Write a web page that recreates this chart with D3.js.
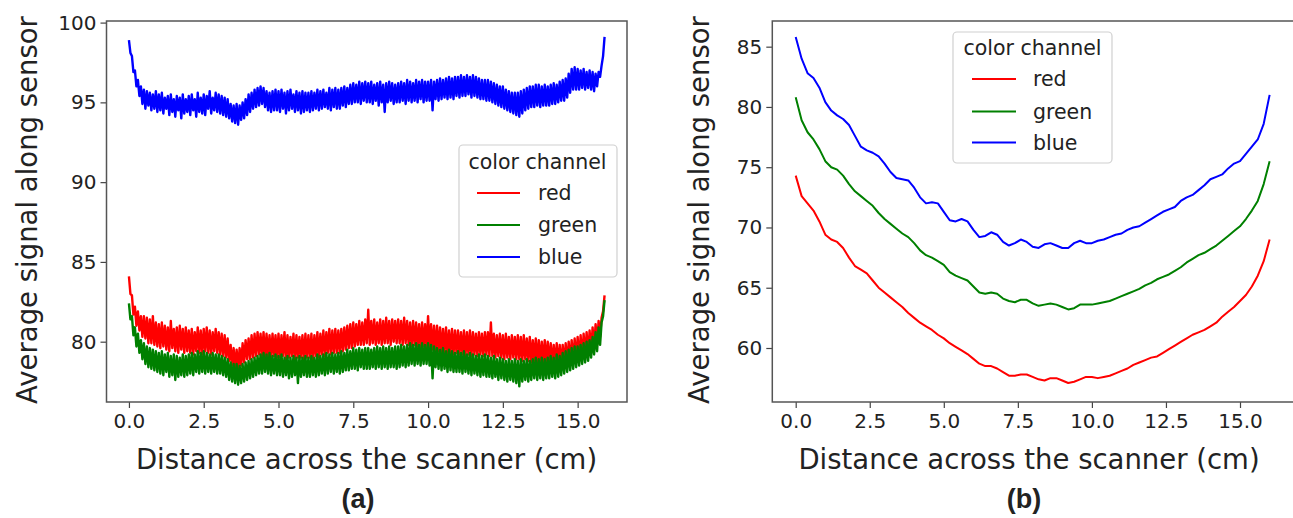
<!DOCTYPE html>
<html>
<head>
<meta charset="utf-8">
<script src="https://cdnjs.cloudflare.com/ajax/libs/d3/7.8.5/d3.min.js"></script>
<style>
  body { margin: 0; background: #fff; }
  text { font-family: "DejaVu Sans", sans-serif; fill: #222; }
  .panel-tag { font-family: "Liberation Sans", Arial, sans-serif; font-weight: bold; }
</style>
</head>
<body>
<div id="chart"></div>
<script>
// ---- data ----
var channels = ["red", "green", "blue"];
var xTicks = [0, 2.5, 5, 7.5, 10, 12.5, 15];
var yTicksA = [80, 85, 90, 95, 100];
var yTicksB = [60, 65, 70, 75, 80, 85];

// (a) raw signal, one sample every 0.05 cm from 0 to 15.9 cm
var stepA = 0.05;
var redA = [
  84.1, 83.0, 82.9, 81.7, 82.2, 81.0, 81.9, 80.7, 81.6, 80.3, 81.6, 80.2, 81.5, 79.9, 81.4, 79.9, 81.6, 79.8, 81.2, 79.7,
  81.1, 79.6, 81.2, 79.7, 81.0, 79.5, 80.9, 79.4, 81.3, 79.6, 80.8, 79.4, 80.9, 79.3, 81.0, 79.5, 80.8, 79.3, 80.9, 79.4,
  80.7, 79.3, 80.8, 79.2, 80.6, 79.4, 80.9, 79.3, 80.7, 79.2, 80.8, 79.4, 80.9, 79.3, 80.7, 79.2, 80.6, 79.4, 80.8, 79.3,
  80.6, 79.2, 80.5, 79.1, 80.4, 79.0, 80.2, 78.8, 79.8, 78.5, 79.6, 78.3, 79.5, 78.3, 79.6, 78.5, 79.9, 78.7, 80.1, 78.9,
  80.2, 78.9, 80.4, 79.0, 80.5, 79.1, 80.6, 79.2, 80.5, 79.1, 80.6, 79.0, 80.5, 79.1, 80.4, 79.0, 80.5, 79.1, 80.4, 79.0,
  80.5, 79.0, 80.4, 79.1, 80.6, 78.9, 80.4, 79.0, 80.3, 79.1, 80.5, 78.9, 80.4, 79.0, 80.3, 79.0, 80.4, 78.9, 80.5, 79.0,
  80.4, 79.0, 80.5, 78.9, 80.4, 79.1, 80.6, 79.0, 80.5, 79.2, 80.7, 79.1, 80.6, 79.3, 80.8, 79.2, 80.7, 79.3, 80.8, 79.3,
  80.7, 79.3, 80.8, 79.4, 80.9, 79.5, 81.0, 79.6, 81.1, 79.6, 81.2, 79.7, 81.1, 79.8, 81.3, 79.8, 81.2, 79.8, 81.4, 79.9,
  82.0, 79.8, 81.3, 79.9, 81.4, 79.8, 81.2, 79.9, 81.4, 79.8, 81.3, 79.9, 81.5, 79.9, 81.3, 79.8, 81.4, 80.0, 81.3, 79.9,
  81.4, 79.9, 81.3, 79.8, 81.5, 79.9, 81.3, 79.8, 81.2, 79.7, 81.3, 79.8, 81.2, 79.7, 81.1, 79.6, 81.2, 79.7, 81.1, 79.6,
  81.6, 79.6, 81.1, 79.5, 81.0, 79.4, 81.0, 79.4, 80.9, 79.3, 80.8, 79.3, 80.9, 79.2, 80.7, 79.3, 80.8, 79.2, 80.7, 79.3,
  80.7, 79.2, 80.6, 79.2, 80.7, 79.1, 80.6, 79.2, 80.7, 79.1, 80.6, 79.2, 80.5, 79.1, 80.6, 79.2, 80.5, 79.1, 80.6, 79.2,
  80.6, 79.1, 81.2, 79.1, 80.5, 79.0, 80.4, 79.1, 80.5, 79.0, 80.4, 78.9, 80.5, 79.0, 80.3, 78.9, 80.4, 79.0, 80.3, 78.9,
  80.4, 78.9, 80.3, 78.8, 80.4, 78.9, 80.2, 78.8, 80.3, 78.7, 80.1, 78.8, 80.2, 78.7, 80.1, 78.6, 80.0, 78.7, 80.1, 78.6,
  80.0, 78.6, 79.9, 78.5, 79.8, 78.5, 79.9, 78.4, 79.8, 78.4, 79.8, 78.5, 79.9, 78.5, 80.0, 78.6, 80.1, 78.7, 80.2, 78.8,
  80.3, 78.8, 80.4, 78.9, 80.5, 79.0, 80.6, 79.1, 80.7, 79.3, 80.9, 79.5, 81.1, 79.8, 81.3, 80.3, 81.5, 81.9, 82.9
];
var greenA = [
  82.4, 81.4, 81.6, 80.4, 80.9, 79.7, 80.5, 79.3, 80.1, 78.9, 79.9, 78.6, 79.7, 78.4, 79.6, 78.3, 79.5, 78.2, 79.4, 78.1,
  79.3, 78.0, 79.4, 77.9, 79.2, 78.1, 79.3, 77.8, 79.1, 77.9, 79.2, 77.6, 79.1, 77.8, 79.0, 77.9, 79.2, 77.8, 79.1, 77.9,
  79.2, 78.0, 79.3, 77.9, 79.2, 78.1, 79.4, 78.0, 79.3, 78.1, 79.4, 78.0, 79.3, 78.1, 79.2, 78.0, 79.3, 78.1, 79.2, 78.0,
  79.2, 78.0, 79.1, 77.9, 79.0, 77.8, 78.9, 77.6, 78.7, 77.5, 78.6, 77.4, 78.6, 77.3, 78.5, 77.4, 78.6, 77.5, 78.7, 77.6,
  78.8, 77.7, 78.9, 77.8, 79.0, 77.9, 79.1, 78.0, 79.2, 78.0, 79.3, 78.1, 79.2, 78.0, 79.3, 77.9, 79.1, 78.0, 79.2, 77.9,
  79.1, 77.9, 79.2, 77.8, 79.0, 77.9, 79.1, 77.7, 79.0, 77.8, 79.1, 77.9, 79.0, 77.4, 79.1, 77.8, 79.0, 77.9, 79.1, 77.8,
  79.0, 77.8, 79.1, 77.9, 79.0, 77.8, 79.2, 77.9, 79.1, 78.0, 79.2, 77.9, 79.3, 78.0, 79.2, 78.1, 79.3, 78.0, 79.2, 78.1,
  79.3, 78.0, 79.4, 78.1, 79.3, 78.2, 79.5, 78.2, 79.4, 78.3, 79.6, 78.3, 79.5, 78.2, 79.6, 78.4, 79.5, 78.3, 79.6, 78.3,
  79.6, 78.3, 79.5, 78.4, 79.6, 78.3, 79.7, 78.4, 79.6, 78.3, 79.7, 78.4, 79.6, 78.3, 79.7, 78.4, 79.6, 78.4, 79.7, 78.3,
  79.7, 78.4, 79.8, 78.5, 79.7, 78.4, 79.8, 78.5, 79.9, 78.6, 79.8, 78.5, 79.9, 78.6, 79.8, 78.5, 79.9, 78.6, 79.8, 78.6,
  79.9, 78.5, 79.8, 77.7, 79.7, 78.4, 79.6, 78.3, 79.5, 78.2, 79.6, 78.3, 79.4, 78.1, 79.5, 78.2, 79.4, 78.1, 79.3, 78.1,
  79.4, 78.1, 79.3, 78.0, 79.4, 78.1, 79.2, 78.0, 79.3, 77.9, 79.2, 78.0, 79.1, 77.9, 79.2, 77.8, 79.1, 77.9, 79.2, 77.8,
  79.1, 77.8, 79.0, 77.7, 79.1, 77.8, 78.9, 77.6, 79.0, 77.7, 78.9, 77.6, 78.8, 77.5, 78.9, 77.6, 78.8, 77.5, 78.9, 77.4,
  78.8, 77.2, 78.9, 77.5, 78.8, 77.6, 78.9, 77.5, 78.8, 77.6, 78.9, 77.7, 79.0, 77.6, 78.9, 77.7, 79.0, 77.6, 78.9, 77.7,
  79.0, 77.7, 79.1, 77.8, 79.0, 77.7, 79.2, 77.8, 79.1, 77.9, 79.3, 78.0, 79.4, 78.1, 79.5, 78.2, 79.6, 78.3, 79.7, 78.4,
  79.7, 78.5, 79.8, 78.6, 79.9, 78.7, 80.0, 78.8, 80.1, 79.0, 80.3, 79.2, 80.6, 79.4, 80.9, 79.8, 81.2, 81.6, 82.6
];
var blueA = [
  98.9, 98.1, 97.9, 96.9, 97.0, 96.0, 96.4, 95.4, 96.0, 94.9, 95.8, 94.6, 95.7, 94.8, 95.6, 94.5, 95.5, 94.6, 95.7, 94.4,
  95.5, 94.5, 95.6, 94.3, 95.3, 94.6, 95.4, 94.2, 95.5, 94.4, 95.2, 94.1, 95.4, 94.5, 95.3, 94.0, 95.5, 94.3, 95.2, 94.4,
  95.4, 94.2, 95.5, 94.5, 95.2, 94.1, 95.6, 94.4, 95.3, 94.3, 95.5, 94.2, 95.4, 94.6, 95.7, 94.3, 95.3, 94.5, 95.6, 94.4,
  95.5, 94.3, 95.4, 94.2, 95.3, 94.1, 95.2, 94.0, 94.9, 93.8, 94.8, 93.7, 94.9, 93.6, 94.8, 93.9, 95.0, 94.0, 95.2, 94.2,
  95.5, 94.4, 95.6, 94.6, 95.8, 94.7, 95.9, 94.8, 96.0, 94.9, 95.9, 94.7, 95.7, 94.5, 95.6, 94.4, 95.7, 94.5, 95.8, 94.5,
  95.7, 94.4, 95.8, 94.6, 95.6, 94.3, 95.7, 94.5, 95.8, 94.6, 95.5, 94.4, 95.7, 94.5, 95.6, 94.3, 95.7, 94.4, 95.6, 94.5,
  95.6, 94.4, 95.7, 94.5, 95.6, 94.6, 95.8, 94.5, 95.7, 94.6, 95.8, 94.7, 95.6, 94.6, 95.9, 94.5, 95.8, 94.7, 95.9, 94.6,
  95.8, 94.6, 95.9, 94.8, 96.0, 94.7, 95.9, 94.9, 96.1, 94.9, 96.2, 95.0, 96.1, 95.0, 96.3, 94.9, 96.2, 95.1, 96.3, 95.0,
  96.2, 95.0, 96.3, 94.9, 96.1, 95.1, 96.2, 94.8, 96.3, 95.0, 96.1, 94.4, 96.2, 95.0, 96.3, 95.1, 96.2, 94.9, 96.1, 95.0,
  96.2, 95.0, 96.3, 95.1, 96.2, 94.9, 96.4, 95.1, 96.3, 95.0, 96.2, 95.1, 96.4, 95.0, 96.3, 95.2, 96.4, 95.0, 96.3, 95.1,
  96.3, 95.1, 96.4, 94.5, 96.3, 95.2, 96.4, 95.1, 96.5, 95.2, 96.4, 95.3, 96.5, 95.2, 96.6, 95.3, 96.5, 95.2, 96.6, 95.4,
  96.6, 95.3, 96.7, 95.4, 96.6, 95.4, 96.7, 95.5, 96.6, 95.3, 96.7, 95.4, 96.6, 95.3, 96.5, 95.2, 96.4, 95.2, 96.4, 95.1,
  96.4, 95.1, 96.3, 95.0, 96.2, 94.9, 96.1, 94.8, 96.0, 94.7, 96.0, 94.6, 95.8, 94.5, 95.7, 94.4, 95.6, 94.3, 95.6, 94.2,
  95.6, 94.1, 95.7, 94.3, 95.8, 94.5, 95.9, 94.6, 96.0, 94.7, 96.0, 94.7, 96.1, 94.8, 96.1, 94.7, 96.0, 94.8, 96.1, 94.8,
  96.0, 94.8, 96.1, 94.9, 96.2, 94.9, 96.1, 95.0, 96.3, 95.1, 96.4, 95.1, 96.5, 95.3, 96.8, 95.6, 97.1, 95.8, 97.2, 95.8,
  97.1, 95.8, 97.0, 95.9, 97.1, 95.8, 96.9, 95.9, 97.0, 95.8, 96.9, 95.7, 96.8, 96.0, 96.9, 96.6, 97.3, 97.9, 99.1
];

// (b) corrected signal, one sample every 0.2 cm from 0 to 16.0 cm
var stepB = 0.2;
var redB = [
  74.3, 72.6, 72.0, 71.4, 70.5, 69.4, 69.0, 68.8, 68.3, 67.5,
  66.8, 66.5, 66.2, 65.6, 65.0, 64.6, 64.2, 63.8, 63.4, 62.9,
  62.5, 62.1, 61.8, 61.5, 61.1, 60.8, 60.4, 60.1, 59.8, 59.5,
  59.1, 58.7, 58.5, 58.5, 58.3, 58.0, 57.7, 57.7, 57.8, 57.8,
  57.6, 57.4, 57.3, 57.5, 57.5, 57.3, 57.1, 57.2, 57.4, 57.6,
  57.6, 57.5, 57.6, 57.7, 57.9, 58.1, 58.3, 58.6, 58.8, 59.0,
  59.2, 59.3, 59.6, 59.9, 60.2, 60.5, 60.8, 61.1, 61.3, 61.5,
  61.8, 62.1, 62.6, 63.0, 63.4, 63.9, 64.4, 65.1, 66.0, 67.2,
  69.0
];
var greenB = [
  80.8, 78.9, 77.9, 77.3, 76.5, 75.5, 75.0, 74.8, 74.3, 73.6,
  73.0, 72.6, 72.2, 71.8, 71.2, 70.7, 70.3, 69.9, 69.5, 69.2,
  68.7, 68.1, 67.7, 67.5, 67.2, 66.9, 66.3, 66.0, 65.8, 65.6,
  65.1, 64.6, 64.5, 64.6, 64.5, 64.1, 63.9, 63.8, 64.0, 64.0,
  63.7, 63.5, 63.6, 63.7, 63.6, 63.4, 63.2, 63.3, 63.6, 63.6,
  63.6, 63.7, 63.8, 63.9, 64.1, 64.3, 64.5, 64.7, 64.9, 65.2,
  65.4, 65.7, 65.9, 66.1, 66.4, 66.7, 67.1, 67.4, 67.7, 67.9,
  68.2, 68.5, 68.9, 69.3, 69.7, 70.1, 70.7, 71.4, 72.2, 73.6,
  75.5
];
var blueB = [
  85.8, 84.0, 82.8, 82.4, 81.6, 80.4, 79.7, 79.3, 79.0, 78.5,
  77.6, 76.7, 76.4, 76.2, 75.9, 75.3, 74.6, 74.1, 74.0, 73.9,
  73.3, 72.5, 72.0, 72.1, 72.0, 71.3, 70.6, 70.5, 70.7, 70.5,
  69.8, 69.2, 69.3, 69.6, 69.4, 68.8, 68.5, 68.7, 69.0, 68.8,
  68.4, 68.3, 68.6, 68.7, 68.5, 68.3, 68.3, 68.7, 68.9, 68.7,
  68.7, 68.9, 69.0, 69.2, 69.4, 69.5, 69.8, 70.0, 70.1, 70.4,
  70.7, 71.0, 71.3, 71.5, 71.7, 72.2, 72.5, 72.7, 73.1, 73.5,
  74.0, 74.2, 74.4, 74.9, 75.3, 75.5, 76.1, 76.7, 77.3, 78.6,
  81.0
];

var colors = { red: "#ff0000", green: "#008000", blue: "#0000ff" };

var width = 1293, height = 518;
var plotTop = 21, plotBottom = 402;

var svg = d3.select("#chart")
    .append("svg")
    .attr("width", width)
    .attr("height", height);

var panels = [
  {
    tag: "(a)", tagX: 358,
    series: { red: redA, green: greenA, blue: blueA }, step: stepA,
    xDomain: [-0.75, 16.65], xRange: [106.5, 627],
    yDomain: [76.22, 100.1], yTicks: yTicksA,
    lineWidth: 2.4,
    yLabelX: 37, xLabelX: 366.5,
    legend: { x: 459, y: 145, w: 158, h: 132, titleX: 537.5, titleY: 162,
              rows: [193, 225, 257], lineX1: 477, lineX2: 520, textX: 538 }
  },
  {
    tag: "(b)", tagX: 1024,
    series: { red: redB, green: greenB, blue: blueB }, step: stepB,
    xDomain: [-0.79, 16.85], xRange: [772.3, 1294.8],
    yDomain: [55.52, 87.13], yTicks: yTicksB,
    lineWidth: 2,
    yLabelX: 709, xLabelX: 1029,
    legend: { x: 953, y: 32, w: 159, h: 131, titleX: 1032.5, titleY: 48,
              rows: [79, 111.5, 142.5], lineX1: 972, lineX2: 1016, textX: 1033 }
  }
];

panels.forEach(function (p, pi) {
    var x = d3.scaleLinear().domain(p.xDomain).range(p.xRange);
    var y = d3.scaleLinear().domain(p.yDomain).range([plotBottom, plotTop]);

    var g = svg.append("g");

    // clip to the axes box
    var clipId = "clip" + pi;
    g.append("clipPath").attr("id", clipId)
      .append("rect")
        .attr("x", p.xRange[0]).attr("y", plotTop)
        .attr("width", p.xRange[1] - p.xRange[0]).attr("height", plotBottom - plotTop);

    var line = d3.line()
        .x(function (d, i) { return x(i * p.step); })
        .y(function (d) { return y(d); });

    channels.forEach(function (c) {
        g.append("path")
            .datum(p.series[c])
            .attr("clip-path", "url(#" + clipId + ")")
            .attr("fill", "none")
            .attr("stroke", colors[c])
            .attr("stroke-width", p.lineWidth)
            .attr("stroke-linejoin", "round")
            .attr("d", line);
    });

    // axes
    var xAxis = g.append("g")
        .attr("transform", "translate(0," + plotBottom + ")")
        .call(d3.axisBottom(x).tickValues(xTicks).tickFormat(d3.format(".1f"))
              .tickSize(6).tickPadding(6));
    var yAxis = g.append("g")
        .attr("transform", "translate(" + p.xRange[0] + ",0)")
        .call(d3.axisLeft(y).tickValues(p.yTicks).tickSize(6).tickPadding(4));

    [xAxis, yAxis].forEach(function (a) {
        a.select(".domain").remove();
        a.selectAll(".tick line").attr("stroke", "#444").attr("stroke-width", 1.2);
        a.selectAll(".tick text").attr("font-family", "DejaVu Sans")
            .attr("font-size", 20).attr("fill", "#222");
    });

    // frame
    g.append("rect")
        .attr("x", p.xRange[0]).attr("y", plotTop)
        .attr("width", p.xRange[1] - p.xRange[0]).attr("height", plotBottom - plotTop)
        .attr("fill", "none").attr("stroke", "#555").attr("stroke-width", 1.5);

    // axis labels
    g.append("text")
        .attr("x", p.xLabelX).attr("y", 469)
        .attr("text-anchor", "middle")
        .attr("font-size", 27.5)
        .text("Distance across the scanner (cm)");
    g.append("text")
        .attr("transform", "translate(" + p.yLabelX + ",210) rotate(-90)")
        .attr("text-anchor", "middle")
        .attr("font-size", 27.5)
        .text("Average signal along sensor");

    // legend
    var L = p.legend;
    var lg = g.append("g");
    lg.append("rect")
        .attr("x", L.x).attr("y", L.y).attr("width", L.w).attr("height", L.h)
        .attr("rx", 4)
        .attr("fill", "#fff").attr("fill-opacity", 0.8)
        .attr("stroke", "#d0d0d0").attr("stroke-width", 1.2);
    lg.append("text")
        .attr("x", L.titleX).attr("y", L.titleY).attr("dy", "0.35em")
        .attr("text-anchor", "middle").attr("font-size", 20.5)
        .text("color channel");
    channels.forEach(function (c, i) {
        lg.append("line")
            .attr("x1", L.lineX1).attr("x2", L.lineX2)
            .attr("y1", L.rows[i]).attr("y2", L.rows[i])
            .attr("stroke", colors[c]).attr("stroke-width", 2);
        lg.append("text")
            .attr("x", L.textX).attr("y", L.rows[i]).attr("dy", "0.35em")
            .attr("font-size", 20.5)
            .text(c);
    });

    // panel tag
    g.append("text")
        .attr("class", "panel-tag")
        .attr("x", p.tagX).attr("y", 508)
        .attr("text-anchor", "middle")
        .attr("font-size", 27)
        .text(p.tag);
});
</script>
</body>
</html>
